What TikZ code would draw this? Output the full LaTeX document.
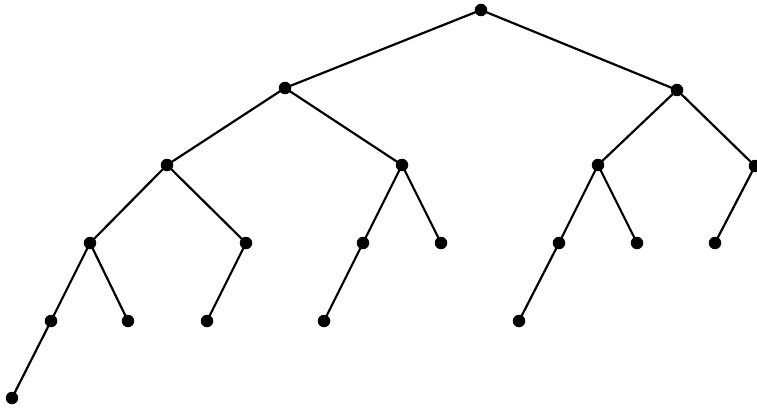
\documentclass[tikz,border=0pt]{standalone}
\begin{document}
\begin{tikzpicture}[x=1pt,y=-1pt,
  dot/.style={circle,fill=black,inner sep=0pt,minimum size=12.5pt},
  edge/.style={line width=2.2pt,black}]
\useasboundingbox (0,0) rectangle (757,409);
\begin{scope}
\clip (0,0) rectangle (757,409);
\node[dot] (r) at (481,10) {};
\node[dot] (a) at (285,88) {};
\node[dot] (b) at (677,90) {};
\node[dot] (aa) at (167,165) {};
\node[dot] (ab) at (402,165) {};
\node[dot] (ba) at (598,165) {};
\node[dot] (bb) at (755,166) {};
\node[dot] (aaa) at (90,243) {};
\node[dot] (aab) at (246,243) {};
\node[dot] (aba) at (363,243) {};
\node[dot] (abb) at (441,243) {};
\node[dot] (baa) at (559,243) {};
\node[dot] (bab) at (637,243) {};
\node[dot] (bba) at (715,243) {};
\node[dot] (aaaa) at (51,321) {};
\node[dot] (aaab) at (128,321) {};
\node[dot] (aaba) at (207,321) {};
\node[dot] (abaa) at (324,321) {};
\node[dot] (baaa) at (519,321) {};
\node[dot] (aaaaa) at (12,398) {};
\draw[edge] (r.center) -- (a.center) (r.center) -- (b.center)
  (a.center) -- (aa.center) (a.center) -- (ab.center)
  (b.center) -- (ba.center) (b.center) -- (bb.center)
  (aa.center) -- (aaa.center) (aa.center) -- (aab.center)
  (ab.center) -- (aba.center) (ab.center) -- (abb.center)
  (ba.center) -- (baa.center) (ba.center) -- (bab.center)
  (bb.center) -- (bba.center)
  (aaa.center) -- (aaaa.center) (aaa.center) -- (aaab.center)
  (aab.center) -- (aaba.center)
  (aba.center) -- (abaa.center)
  (baa.center) -- (baaa.center)
  (aaaa.center) -- (aaaaa.center);
\end{scope}
\end{tikzpicture}
\end{document}
